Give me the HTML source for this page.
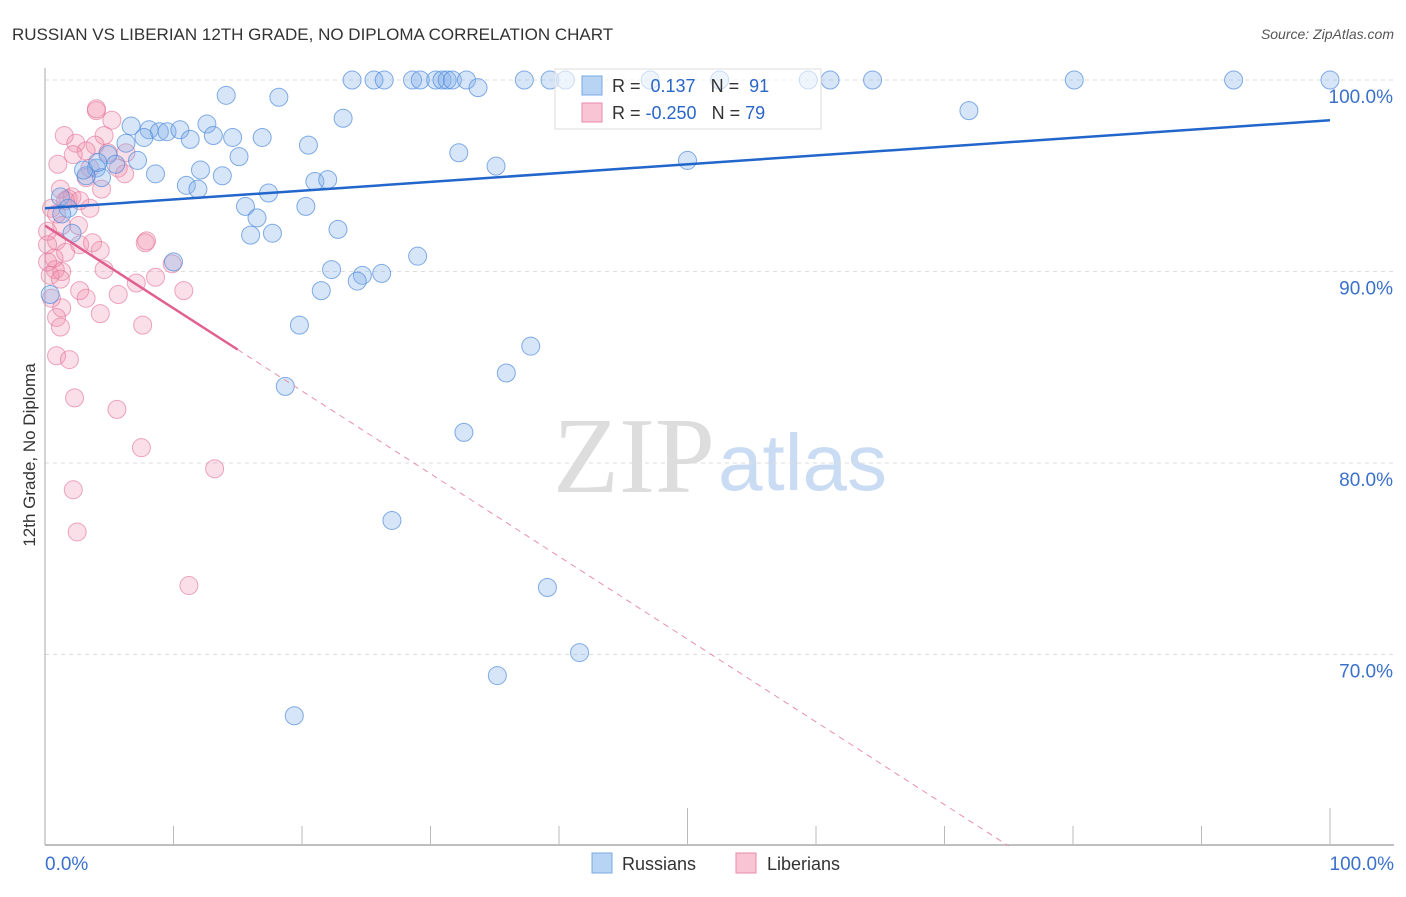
<!DOCTYPE html>
<html><head><meta charset="utf-8"><style>
body{margin:0;background:#fff;font-family:"Liberation Sans",sans-serif;}
</style></head><body>
<svg width="1406" height="892" xmlns="http://www.w3.org/2000/svg" id="svg">
<text x="12" y="40" font-size="17" fill="#333">RUSSIAN VS LIBERIAN 12TH GRADE, NO DIPLOMA CORRELATION CHART</text>
<text x="1394" y="39" font-size="14" fill="#555" font-style="italic" text-anchor="end">Source: ZipAtlas.com</text>
<text x="553" y="492" font-size="108" fill="#ddd" font-family="Liberation Serif">ZIP</text>
<text x="718" y="490" font-size="80" fill="#c9dcf3">atlas</text>
<text transform="translate(35,455) rotate(-90)" font-size="17" fill="#333" text-anchor="middle">12th Grade, No Diploma</text>
<g id="grid"></g><g id="ticks"></g><g id="pts"></g><g id="lines"></g>
<g>
<rect x="555" y="69" width="266" height="60" fill="rgba(255,255,255,0.6)" stroke="#ddd"/>
<rect x="582" y="76" width="20" height="19" fill="#b8d4f5" stroke="#7aa8e0"/>
<text x="612" y="92" font-size="18" fill="#333">R = <tspan fill="#2a66c8">&#160;0.137</tspan>&#160;&#160;&#160;N = <tspan fill="#2a66c8">&#160;91</tspan></text>
<rect x="582" y="103" width="20" height="19" fill="#f9c5d5" stroke="#e88aa8"/>
<text x="612" y="119" font-size="18" fill="#333">R = <tspan fill="#2a66c8">-0.250</tspan>&#160;&#160;&#160;N = <tspan fill="#2a66c8">79</tspan></text>
</g>
<g>
<rect x="592" y="853" width="20" height="20" fill="#b8d4f5" stroke="#7aa8e0"/>
<text x="622" y="870" font-size="18" fill="#333">Russians</text>
<rect x="736" y="853" width="20" height="20" fill="#f9c5d5" stroke="#e88aa8"/>
<text x="767" y="870" font-size="18" fill="#333">Liberians</text>
</g>
</svg>
<script>
const yTicks=[100,90,80,70];
const yTickLabels=["100.0%","90.0%","80.0%","70.0%"];
const xTickLabels=["0.0%","100.0%"];
const russX=[23.9,25.6,26.4,28.6,29.2,30.4,30.9,31.3,31.7,32.8,37.3,39.3,40.5,47.1,52.5,59.4,61.1,64.4,80.1,92.5,100,33.7,14.1,18.2,71.9,23.2,6.7,8.1,8.9,9.5,10.5,12.6,11.3,13.1,14.6,16.9,6.3,7.7,20.5,32.2,15.1,4.9,7.2,50.0,5.5,4.0,35.1,12.1,8.6,13.8,4.4,3.2,11.0,11.9,21.0,22.0,17.4,15.6,20.3,16.5,16.0,17.7,22.8,1.2,1.8,1.3,2.1,10.0,29.0,22.3,24.7,26.2,24.3,21.5,0.4,19.8,37.8,35.9,18.7,32.6,27.0,39.1,41.6,35.2,19.4,3.0,4.1];
const russY=[100,100,100,100,100,100,100,100,100,100,100,100,100,100,100,100,100,100,100,100,100,99.6,99.2,99.1,98.4,98.0,97.6,97.4,97.3,97.3,97.4,97.7,96.9,97.1,97.0,97.0,96.7,97.0,96.6,96.2,96.0,96.1,95.8,95.8,95.6,95.4,95.5,95.3,95.1,95.0,94.9,95.0,94.5,94.3,94.7,94.8,94.1,93.4,93.4,92.8,91.9,92.0,92.2,93.9,93.3,93.0,92.0,90.5,90.8,90.1,89.8,89.9,89.5,89.0,88.8,87.2,86.1,84.7,84.0,81.6,77.0,73.5,70.1,68.9,66.8,95.3,95.7];
const libX=[4.0,4.0,5.2,1.5,4.6,2.4,3.9,4.9,3.2,6.3,1.0,2.2,5.7,3.5,6.2,3.2,4.4,1.2,1.8,2.1,3.5,0.5,0.9,2.6,0.2,1.3,0.9,2.7,3.7,4.3,1.6,0.2,0.8,1.3,0.4,1.2,4.6,7.9,7.8,8.6,9.9,7.1,10.8,5.7,2.7,3.2,1.3,4.3,0.9,1.2,7.6,0.9,1.9,2.3,5.6,7.5,13.2,2.2,2.5,11.2,0.2,0.5,1.6,2.7,0.7];
const libY=[98.4,98.5,97.9,97.1,97.1,96.7,96.6,96.2,96.3,96.2,95.6,96.1,95.4,95.4,95.1,94.9,94.3,94.3,93.8,93.9,93.3,93.3,93.0,92.4,92.1,92.4,91.6,91.4,91.5,91.1,91.0,90.5,90.1,90.0,89.8,89.6,90.1,91.6,91.5,89.7,90.4,89.4,89.0,88.8,89.0,88.6,88.1,87.8,87.6,87.1,87.2,85.6,85.4,83.4,82.8,80.8,79.7,78.6,76.4,73.6,91.4,88.6,93.7,93.7,90.7];
const russTrend=[93.3,97.9];
const libTrend=[92.4,60];
const X=v=>45+v*12.85, Y=v=>80+(100-v)*19.15;
const NS="http://www.w3.org/2000/svg";
function mk(tag,attrs,parent){const e=document.createElementNS(NS,tag);for(const k in attrs)e.setAttribute(k,attrs[k]);document.getElementById(parent).appendChild(e);return e;}
yTicks.forEach((t,i)=>{
 const g=mk('line',{x1:45,x2:1394,y1:Y(t),y2:Y(t),stroke:'#ddd','stroke-dasharray':'4,4'},'grid');
 
 
 const l=mk('text',{x:1393,y:Y(t)+23,'text-anchor':'end','font-size':19,fill:'#3a70cc'},'grid');
 l.textContent=yTickLabels[i];
 
 
});
mk('line',{x1:45,x2:45,y1:68,y2:845,stroke:'#aaa'},'ticks');
const ax=mk('line',{x1:45,x2:1394,y1:845,y2:845,stroke:'#aaa','stroke-width':1.5},'ticks');


for(let i=1;i<=10;i++){const tk=mk('line',{x1:X(i*10),x2:X(i*10),y1:i%5==0?808:826,y2:845,stroke:'#bbb'},'ticks');
 
 }
[[0,'start',45],[100,'end',1394]].forEach((d,i)=>{const t=mk('text',{x:d[2],y:870,'text-anchor':d[1],'font-size':19,fill:'#3a70cc'},'ticks');t.textContent=xTickLabels[i];
 
 });
libX.forEach((v,i)=>{const c=mk('circle',{cx:X(v),cy:Y(libY[i]),r:9,fill:'rgba(242,140,172,0.28)',stroke:'rgba(228,120,155,0.65)'},'pts');
 
 });
russX.forEach((v,i)=>{const c=mk('circle',{cx:X(v),cy:Y(russY[i]),r:9,fill:'rgba(130,175,235,0.33)',stroke:'rgba(80,140,220,0.7)'},'pts');
 
 });
const bl=mk('line',{x1:X(0),y1:Y(russTrend[0]),x2:X(100),y2:Y(russTrend[1]),stroke:'#2266cc','stroke-width':2.5},'lines');


const f=x=>libTrend[0]+(libTrend[1]-libTrend[0])*x/75;
const pl=mk('line',{x1:X(0),y1:Y(f(0)),x2:X(15),y2:Y(f(15)),stroke:'#e06090','stroke-width':2.5},'lines');


const pd=mk('line',{x1:X(15),y1:Y(f(15)),x2:X(75),y2:Y(f(75)),stroke:'#e890aa','stroke-width':1,'stroke-dasharray':'6,5'},'lines');


</script>
</body></html>
